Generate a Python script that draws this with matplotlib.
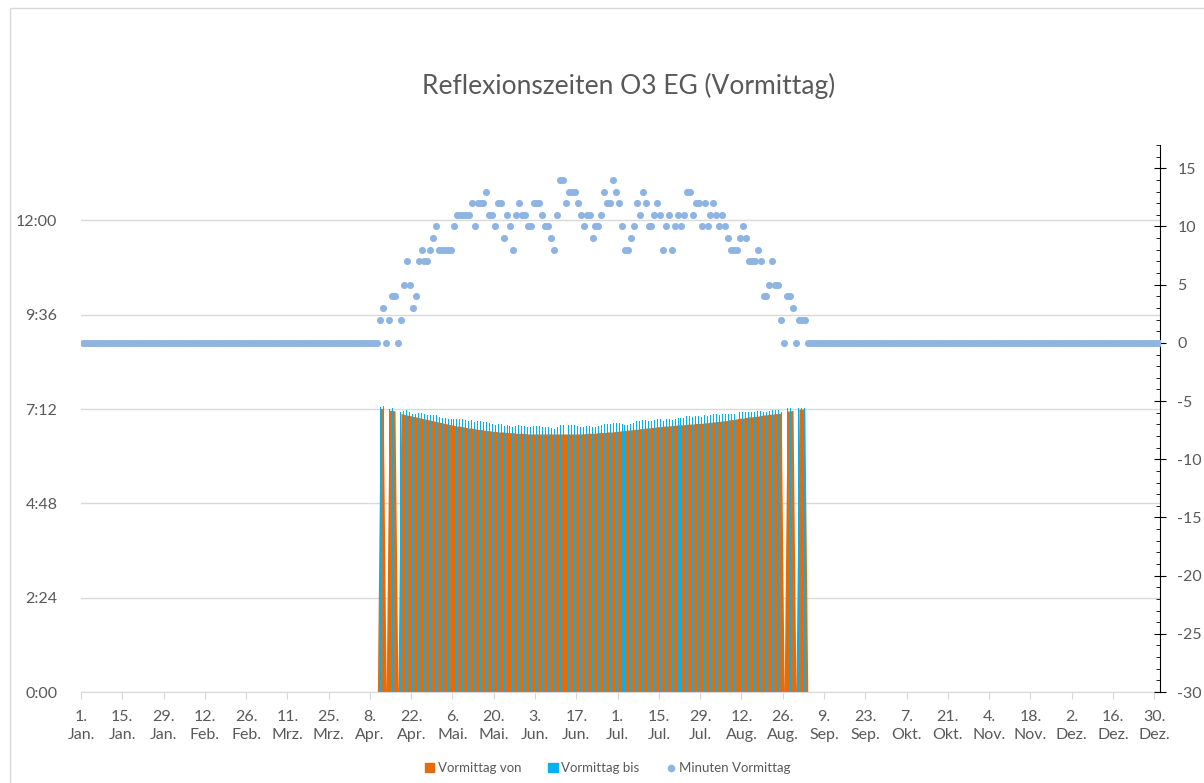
import matplotlib
matplotlib.use("Agg")
import matplotlib.pyplot as plt
import numpy as np
from matplotlib.patches import Patch, Rectangle
from matplotlib.lines import Line2D

plt.rcParams['font.family'] = ['Lato', 'DejaVu Sans']
plt.rcParams['axes.unicode_minus'] = False

# Tage 2024 (Schaltjahr), Index 0 = 1. Jan.
anzahl_tage = 366
erster_tag = 101   # 10. Apr.

# Minuten Vormittag, Tag 101 .. 245
minuten_werte = [
    2, 3, 0, 2, 4, 4, 0, 2, 5, 7, 5, 3, 4, 7, 8, 7, 7, 8, 9, 10,
    8, 8, 8, 8, 8, 10, 11, 11, 11, 11, 11, 12, 10, 12, 12, 12, 13, 11, 11, 10,
    12, 12, 9, 11, 10, 8, 11, 12, 11, 11, 10, 10, 12, 12, 12, 11, 10, 10, 9, 8,
    11, 14, 14, 12, 13, 13, 13, 12, 11, 10, 11, 11, 9, 10, 10, 11, 13, 12, 12, 14,
    13, 12, 10, 8, 8, 9, 10, 12, 11, 13, 12, 10, 10, 11, 12, 11, 8, 10, 11, 8,
    10, 11, 10, 11, 13, 13, 11, 12, 12, 10, 12, 10, 11, 12, 11, 10, 11, 10, 9, 8,
    8, 8, 9, 10, 9, 7, 7, 7, 8, 7, 4, 4, 5, 7, 5, 5, 2, 0, 4, 4,
    3, 0, 2, 2, 2,
]

# Vormittag von (Minuten ab 0:00), Tag 101 .. 245, 0 = keine Reflexion
von_werte = [
    433, 433, 0, 430, 430, 429, 0, 425, 424, 423, 422, 421, 420, 419, 418, 417, 416, 415, 414, 413,
    412, 411, 410, 409, 408, 407, 406, 406, 405, 404, 403, 403, 402, 401, 401, 400, 399, 399, 398, 398,
    397, 397, 397, 396, 396, 396, 395, 395, 395, 395, 394, 394, 394, 394, 394, 394, 394, 394, 394, 394,
    394, 394, 394, 394, 394, 394, 394, 394, 394, 394, 395, 395, 395, 395, 396, 396, 396, 397, 397, 397,
    398, 398, 399, 399, 400, 400, 401, 401, 402, 402, 403, 403, 404, 404, 405, 405, 406, 406, 406, 407,
    407, 408, 408, 408, 409, 409, 409, 410, 410, 410, 411, 411, 412, 412, 413, 413, 414, 414, 415, 416,
    416, 417, 418, 418, 419, 420, 420, 421, 421, 422, 423, 423, 424, 424, 425, 425, 426, 0, 429, 429,
    430, 0, 432, 432, 432,
]

rest = anzahl_tage - erster_tag - len(minuten_werte)
minuten_vormittag = [0] * erster_tag + minuten_werte + [0] * rest
vormittag_von = [0] * erster_tag + von_werte + [0] * rest
vormittag_bis = [v + m if v else 0 for v, m in zip(vormittag_von, minuten_vormittag)]

x_ticks_tage = list(range(0, 365, 14))
x_labels = ['1.\nJan.', '15.\nJan.', '29.\nJan.', '12.\nFeb.', '26.\nFeb.', '11.\nMrz.', '25.\nMrz.',
            '8.\nApr.', '22.\nApr.', '6.\nMai.', '20.\nMai.', '3.\nJun.', '17.\nJun.', '1.\nJul.',
            '15.\nJul.', '29.\nJul.', '12.\nAug.', '26.\nAug.', '9.\nSep.', '23.\nSep.', '7.\nOkt.',
            '21.\nOkt.', '4.\nNov.', '18.\nNov.', '2.\nDez.', '16.\nDez.', '30.\nDez.']
y_ticks_min = [0, 144, 288, 432, 576, 720]
y_labels = ['0:00', '2:24', '4:48', '7:12', '9:36', '12:00']

grau = '#595959'
orange = '#E46C0A'
blau = '#00B0F0'
punkt = '#8EB4E3'

fig = plt.figure(figsize=(12.04, 7.83), dpi=100)
fig.patches.append(Rectangle((0.008, -0.1), 1.2, 1.09, transform=fig.transFigure,
                             fill=False, edgecolor='#D9D9D9', linewidth=1))
ax = fig.add_axes([0.0673, 0.1162, 0.8962, 0.6986])

x = np.arange(anzahl_tage) + 0.5
ax.fill_between(x, 0, vormittag_von, color=orange, linewidth=0, zorder=2)
ax.bar(x, vormittag_bis, width=0.33, color=blau, linewidth=0, zorder=3)

ax.set_xlim(0, anzahl_tage)
ax.set_ylim(0, 835)
ax.set_yticks(y_ticks_min)
ax.set_yticklabels(y_labels)
ax.set_xticks(x_ticks_tage)
ax.set_xticklabels(x_labels, linespacing=1.35)
ax.grid(axis='y', color='#D9D9D9', linewidth=1, zorder=0)
ax.set_axisbelow(True)
for s in ['top', 'right', 'left']:
    ax.spines[s].set_visible(False)
ax.spines['bottom'].set_color('#D9D9D9')
ax.tick_params(axis='y', length=0, labelsize=11.5, labelcolor=grau, pad=17)
ax.tick_params(axis='x', length=5, color='#D9D9D9', labelsize=11.5, labelcolor=grau, pad=8)

ax2 = ax.twinx()
ax2.scatter(x, minuten_vormittag, s=26, color=punkt, linewidths=0, zorder=4)
ax2.set_ylim(-30, 17)
ax2.set_yticks(range(-30, 16, 5))
ax2.set_yticks(range(-30, 18), minor=True)
for s in ['top', 'left', 'bottom']:
    ax2.spines[s].set_visible(False)
ax2.spines['right'].set_color('black')
ax2.tick_params(axis='y', which='major', direction='inout', length=9, labelsize=11.5,
                labelcolor=grau, pad=8)
ax2.tick_params(axis='y', which='minor', direction='in', length=3)

fig.text(0.522, 0.89, 'Reflexionszeiten O3 EG (Vormittag)', ha='center', va='center',
         fontsize=19, color=grau)

handles = [Patch(color=orange, label='Vormittag von'),
           Patch(color=blau, label='Vormittag bis'),
           Line2D([], [], marker='o', linestyle='none', markersize=4.5, color=punkt,
                  label='Minuten Vormittag')]
fig.legend(handles=handles, loc='center', bbox_to_anchor=(0.505, 0.019), ncol=3, frameon=False,
           fontsize=9.5, labelcolor=grau, handlelength=0.7, handleheight=0.7, handletextpad=0.3,
           columnspacing=2.0)

fig.savefig('out.png', dpi=100)
